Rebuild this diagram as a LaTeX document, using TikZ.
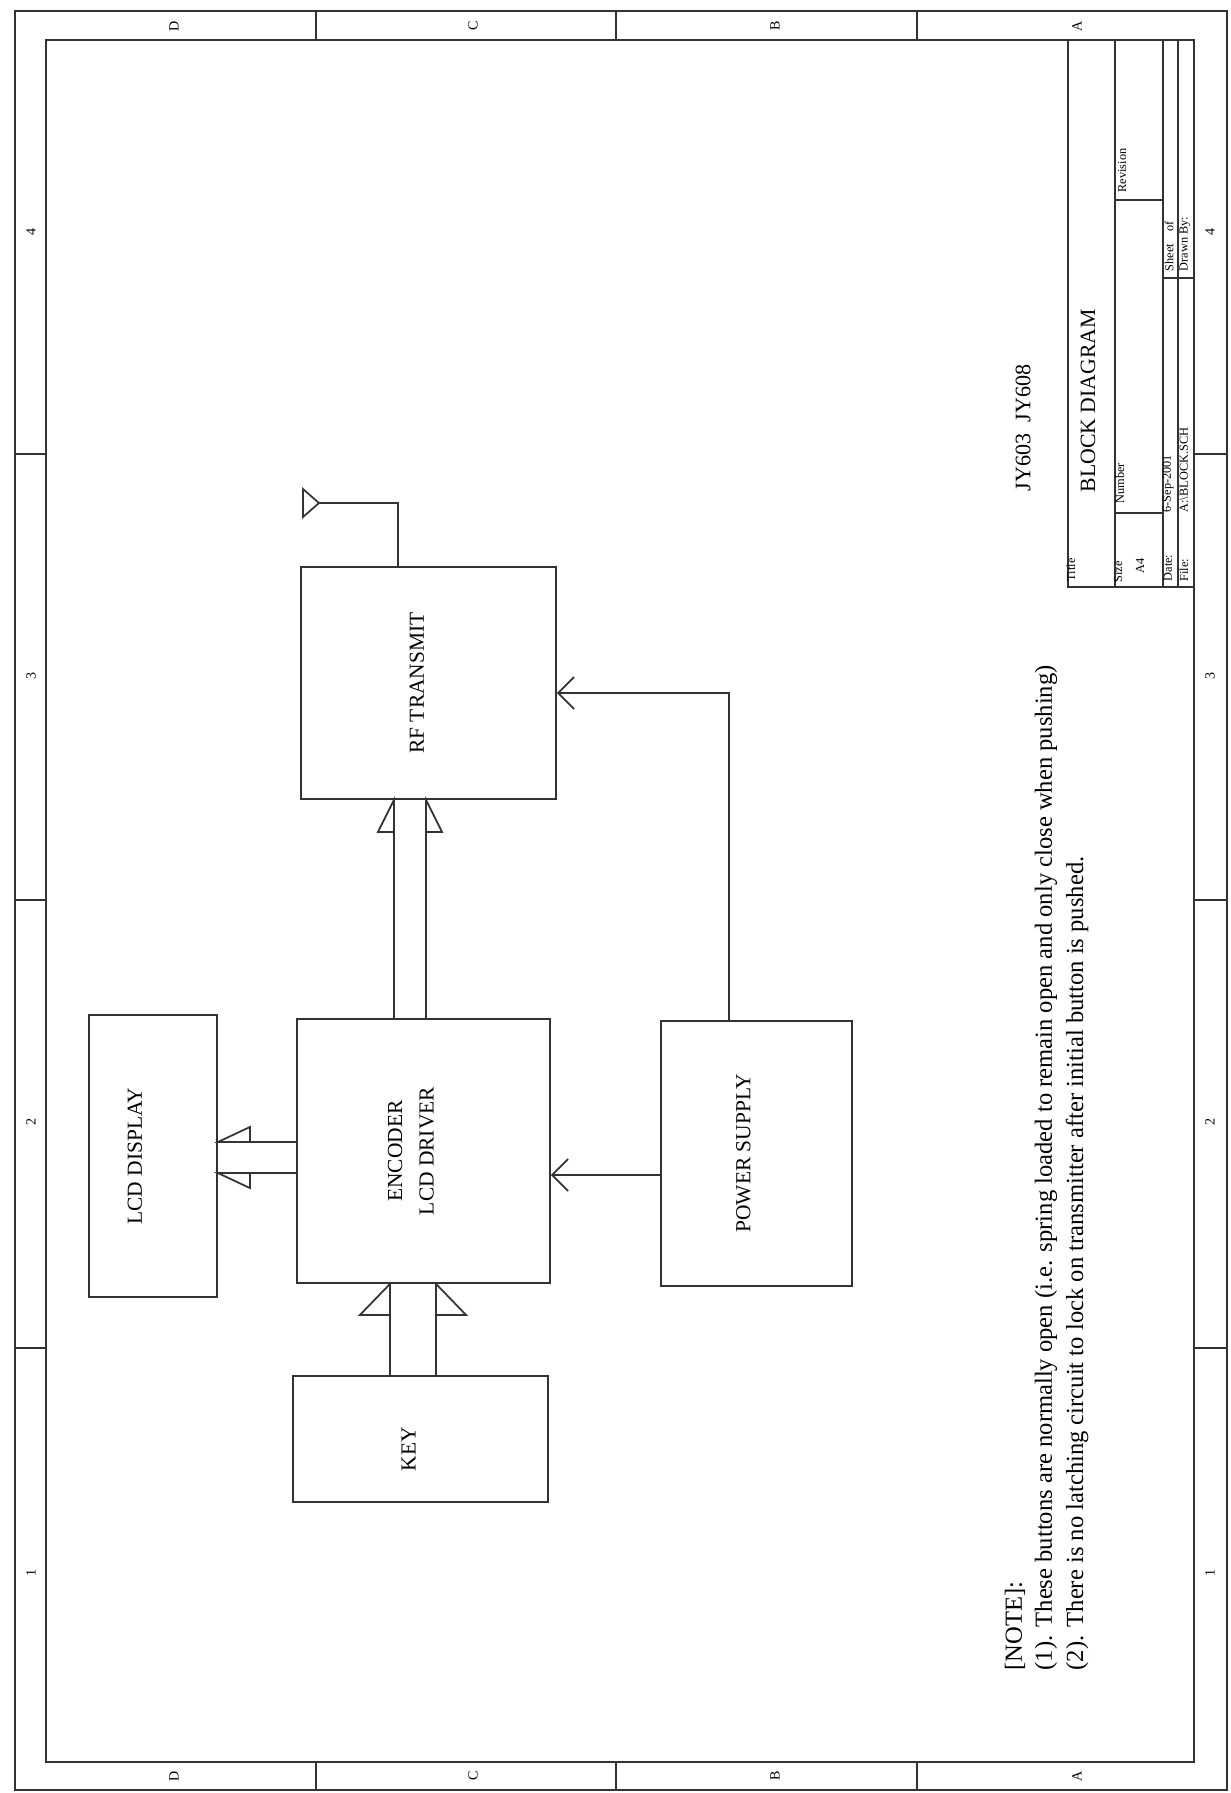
\documentclass[tikz,border=0pt]{standalone}
\usepackage{fontspec}
\setmainfont{Liberation Serif}
\usetikzlibrary{arrows.meta}

\begin{document}
\begin{tikzpicture}[x=0.1mm,y=-0.1mm,
  wire/.style={black!80,line width=0.5pt},
  block/.style={wire,draw,inner sep=0pt},
  feed/.style={wire,-{Straight Barb[length=1.6mm,width=3.2mm]}},
  lbl/.style={text=black,font=\fontsize{6.1}{9}\selectfont},
  small/.style={rotate=90,anchor=west,inner sep=0pt,font=\fontsize{3.5}{4}\selectfont},
  zone/.style={rotate=90,inner sep=0pt,font=\fontsize{4}{4}\selectfont},
  note/.style={rotate=90,anchor=west,inner sep=0pt,font=\fontsize{7}{8}\selectfont}]
\useasboundingbox (0,0) rectangle (1231,1793);

% frame with zones
\draw[wire] (15,11) rectangle (1227,1790);
\draw[wire] (46,40) rectangle (1194,1762);
\foreach \x in {316,616,917}
  \draw[wire] (\x,11) -- (\x,40) (\x,1762) -- (\x,1790);
\foreach \y in {454,900,1348}
  \draw[wire] (15,\y) -- (46,\y) (1194,\y) -- (1227,\y);
\foreach \x/\zn in {174/D,473/C,775/B,1077/A}
  \path (\x,26) node[zone] (zt\zn) {\zn} (\x,1776) node[zone] (zb\zn) {\zn};
\foreach \y/\zn in {232/4,676/3,1122/2,1573/1}
  \path (31,\y) node[zone] (zl\zn) {\zn} (1210,\y) node[zone] (zr\zn) {\zn};

% title block
\draw[wire] (1068,40) -- (1068,587) -- (1194,587);
\draw[wire] (1115,40) -- (1115,587) (1163,40) -- (1163,587) (1178,40) -- (1178,587);
\draw[wire] (1115,513) -- (1163,513) (1115,200) -- (1163,200) (1163,278) -- (1194,278);
\node[small] (ttl) at (1071,582) {Title};
\node[small,font=\fontsize{6.2}{7}\selectfont] (ttlname) at (1088,493) {BLOCK DIAGRAM};
\node[small] (sz) at (1118,583) {Size};
\node[small] (szv) at (1140,574) {A4};
\node[small] (num) at (1120,504) {Number};
\node[small] (rev) at (1122,193) {Revision};
\node[small] (dt) at (1168,582) {Date:};
\node[small] (dtv) at (1168,513) {6-Sep-2001};
\node[small] (fl) at (1184,582) {File:};
\node[small] (flv) at (1184,513) {A:\textbackslash BLOCK.SCH};
\node[small] (sht) at (1169,272) {Sheet\quad of};
\node[small] (drw) at (1185,272) {Drawn By:};
\node[small,font=\fontsize{6.3}{7}\selectfont] (model) at (1023,492) {JY603~~JY608};

% blocks
\node[block,minimum width=12.8mm,minimum height=28.2mm,
  label={[lbl,xshift=-1.8mm]center:\rotatebox{90}{LCD DISPLAY}}] (lcd) at (153,1156) {};
\node[block,minimum width=25.3mm,minimum height=26.4mm,
  label={[lbl,xshift=-1.2mm]center:\rotatebox{90}{\begin{tabular}{@{}c@{}}ENCODER\\LCD DRIVER\end{tabular}}}] (enc) at (423.5,1151) {};
\node[block,minimum width=25.5mm,minimum height=23.2mm,
  label={[lbl,xshift=-1.15mm]center:\rotatebox{90}{RF TRANSMIT}}] (rf) at (428.5,683) {};
\node[block,minimum width=19.1mm,minimum height=26.5mm,
  label={[lbl,xshift=-1.3mm]center:\rotatebox{90}{POWER SUPPLY}}] (psu) at (756.5,1153.5) {};
\node[block,minimum width=25.5mm,minimum height=12.6mm,
  label={[lbl,xshift=-1.2mm,yshift=-1mm]center:\rotatebox{90}{KEY}}] (key) at (420.5,1439) {};

% buses
\draw[wire] (key.north -| 390,0) -- (enc.south -| 390,0) -- ++(-30,31) -- ++(30,0);
\draw[wire] (key.north -| 436,0) -- (enc.south -| 436,0) -- ++(30,31) -- ++(-30,0);
\draw[wire] (enc.north -| 394,0) -- (rf.south -| 394,0) -- ++(-16,32) -- ++(16,0);
\draw[wire] (enc.north -| 426,0) -- (rf.south -| 426,0) -- ++(16,32) -- ++(-16,0);
\draw[wire] (enc.west |- 0,1142) -- (lcd.east |- 0,1142) -- ++(32,-15) -- ++(0,15);
\draw[wire] (enc.west |- 0,1173) -- (lcd.east |- 0,1173) -- ++(32,15) -- ++(0,-15);

% supply and antenna
\draw[feed] (psu.west |- 0,1175) -- (enc.east |- 0,1175);
\draw[feed] (psu.north -| 729,0) |- (rf.east |- 0,693);
\coordinate (ant) at (319,503);
\draw[wire] (rf.north -| 398,0) |- (ant) -- ++(-16,-14) -- ++(0,28) -- (ant);

% notes
\node[note] (nt0) at (1015,1671) {[NOTE]:};
\node[note] (nt1) at (1046,1671) {(1). These buttons are normally open (i.e. spring loaded to remain open and only close when pushing)};
\node[note] (nt2) at (1077,1671) {(2). There is no latching circuit to lock on transmitter after initial button is pushed.};
\end{tikzpicture}
\end{document}
